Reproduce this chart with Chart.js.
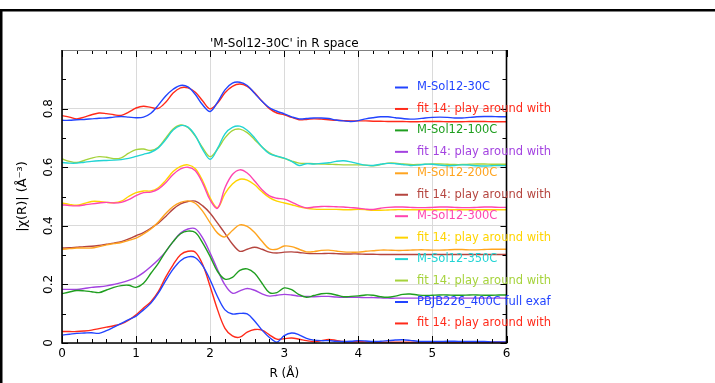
<!DOCTYPE html>
<html>
<head>
<meta charset="utf-8">
<script src="https://cdn.jsdelivr.net/npm/chart.js@4.4.1/dist/chart.umd.min.js"></script>
<style>
html, body { margin: 0; padding: 0; background: #fff; }
</style>
</head>
<body>
<canvas id="graph" width="715" height="383"></canvas>
<script>
// R grid (Å)
const rValues = [0.0,0.1,0.2,0.3,0.4,0.5,0.6,0.7,0.8,0.9,
	1.0,1.1,1.2,1.3,1.4,1.5,1.6,1.7,1.8,1.9,
	2.0,2.1,2.2,2.3,2.4,2.5,2.6,2.7,2.8,2.9,
	3.0,3.1,3.2,3.3,3.4,3.5,3.6,3.7,3.8,3.9,
	4.0,4.1,4.2,4.3,4.4,4.5,4.6,4.7,4.8,4.9,
	5.0,5.1,5.2,5.3,5.4,5.5,5.6,5.7,5.8,5.9,6.0];

const xTicks = [0, 1, 2, 3, 4, 5, 6];
const yTicks = [0, 0.2, 0.4, 0.6, 0.8];

const labels = ['M-Sol12-30C', 'fit 14: play around with',
	'M-Sol12-100C', 'fit 14: play around with',
	'M-Sol12-200C', 'fit 14: play around with',
	'M-Sol12-300C', 'fit 14: play around with',
	'M-Sol12-350C', 'fit 14: play around with',
	'PBJB226_400C full exaf', 'fit 14: play around with'];

const data30 = [0.760,0.760,0.762,0.763,0.765,0.767,0.768,0.771,0.773,0.771,
	0.769,0.771,0.784,0.812,0.843,0.866,0.879,0.874,0.848,0.812,
	0.790,0.822,0.864,0.887,0.890,0.879,0.852,0.825,0.803,0.791,
	0.782,0.772,0.765,0.766,0.768,0.768,0.766,0.761,0.758,0.756,
	0.759,0.765,0.769,0.772,0.772,0.769,0.766,0.764,0.765,0.768,
	0.770,0.771,0.770,0.768,0.768,0.770,0.772,0.773,0.773,0.772,0.772];
const fit30 = [0.776,0.771,0.765,0.771,0.779,0.785,0.783,0.779,0.777,0.788,
	0.802,0.808,0.804,0.801,0.822,0.853,0.871,0.871,0.856,0.826,
	0.799,0.819,0.854,0.876,0.884,0.876,0.854,0.825,0.800,0.785,
	0.779,0.770,0.762,0.763,0.765,0.764,0.762,0.760,0.759,0.758,
	0.758,0.758,0.757,0.757,0.756,0.756,0.756,0.755,0.755,0.756,
	0.756,0.756,0.755,0.755,0.755,0.756,0.756,0.756,0.755,0.755,0.755];
const data100 = [0.168,0.174,0.179,0.178,0.175,0.172,0.181,0.190,0.196,0.197,
	0.190,0.204,0.238,0.272,0.312,0.346,0.373,0.382,0.377,0.341,
	0.295,0.244,0.218,0.224,0.248,0.253,0.238,0.204,0.172,0.172,
	0.188,0.182,0.165,0.156,0.162,0.168,0.169,0.164,0.158,0.159,
	0.161,0.164,0.163,0.158,0.156,0.160,0.166,0.167,0.164,0.162,
	0.163,0.164,0.164,0.163,0.163,0.164,0.164,0.163,0.163,0.164,0.164];
const fit100 = [0.183,0.183,0.183,0.186,0.190,0.192,0.195,0.200,0.206,0.214,
	0.224,0.240,0.261,0.284,0.312,0.346,0.375,0.389,0.390,0.358,
	0.307,0.250,0.198,0.170,0.178,0.186,0.180,0.168,0.160,0.163,
	0.166,0.164,0.160,0.159,0.158,0.159,0.159,0.157,0.156,0.156,
	0.156,0.155,0.155,0.154,0.153,0.153,0.153,0.153,0.153,0.153,
	0.153,0.153,0.153,0.153,0.153,0.153,0.153,0.153,0.153,0.153,0.153];
const data200 = [0.320,0.322,0.324,0.324,0.324,0.329,0.335,0.339,0.343,0.350,
	0.358,0.372,0.389,0.413,0.442,0.466,0.480,0.485,0.477,0.449,
	0.410,0.375,0.362,0.384,0.403,0.398,0.377,0.347,0.321,0.320,
	0.331,0.329,0.320,0.311,0.312,0.316,0.317,0.314,0.311,0.310,
	0.310,0.313,0.315,0.317,0.317,0.316,0.316,0.317,0.318,0.318,
	0.317,0.317,0.318,0.319,0.319,0.318,0.318,0.319,0.320,0.320,0.320];
const fit200 = [0.324,0.325,0.327,0.329,0.330,0.333,0.337,0.341,0.346,0.355,
	0.366,0.377,0.392,0.409,0.432,0.457,0.475,0.483,0.484,0.468,
	0.443,0.409,0.374,0.338,0.313,0.320,0.327,0.320,0.310,0.307,
	0.310,0.311,0.309,0.306,0.305,0.305,0.306,0.305,0.304,0.304,
	0.304,0.303,0.303,0.302,0.302,0.302,0.302,0.302,0.302,0.302,
	0.302,0.302,0.302,0.302,0.302,0.302,0.302,0.302,0.302,0.302,0.302];
const data300 = [0.472,0.469,0.468,0.471,0.475,0.478,0.480,0.478,0.480,0.489,
	0.503,0.513,0.515,0.525,0.547,0.575,0.594,0.600,0.588,0.545,
	0.488,0.460,0.530,0.575,0.591,0.580,0.553,0.523,0.502,0.494,
	0.491,0.481,0.469,0.461,0.464,0.466,0.466,0.465,0.464,0.462,
	0.460,0.457,0.456,0.460,0.463,0.464,0.464,0.463,0.462,0.462,
	0.463,0.464,0.464,0.463,0.462,0.462,0.463,0.464,0.464,0.463,0.463];
const fit300 = [0.478,0.473,0.470,0.476,0.483,0.483,0.480,0.479,0.484,0.500,
	0.513,0.519,0.519,0.530,0.555,0.585,0.603,0.608,0.595,0.553,
	0.495,0.462,0.510,0.543,0.559,0.556,0.540,0.516,0.496,0.484,
	0.478,0.472,0.465,0.460,0.457,0.456,0.456,0.456,0.455,0.455,
	0.456,0.455,0.453,0.453,0.454,0.455,0.455,0.455,0.455,0.455,
	0.455,0.455,0.455,0.455,0.455,0.455,0.455,0.455,0.455,0.455,0.455];
const data350 = [0.616,0.614,0.614,0.617,0.620,0.622,0.623,0.624,0.626,0.630,
	0.637,0.644,0.651,0.666,0.694,0.727,0.742,0.737,0.708,0.660,
	0.627,0.664,0.714,0.736,0.740,0.726,0.700,0.669,0.646,0.638,
	0.631,0.620,0.606,0.612,0.611,0.613,0.615,0.620,0.622,0.618,
	0.612,0.607,0.606,0.610,0.613,0.612,0.609,0.606,0.607,0.610,
	0.610,0.607,0.605,0.606,0.608,0.607,0.605,0.604,0.605,0.606,0.605];
const fit350 = [0.628,0.620,0.616,0.623,0.631,0.636,0.634,0.629,0.632,0.648,
	0.660,0.662,0.657,0.668,0.699,0.730,0.744,0.736,0.706,0.666,
	0.636,0.662,0.700,0.725,0.730,0.718,0.694,0.669,0.649,0.637,
	0.630,0.621,0.614,0.613,0.612,0.611,0.610,0.609,0.608,0.608,
	0.608,0.607,0.605,0.609,0.614,0.614,0.611,0.609,0.609,0.610,
	0.611,0.611,0.610,0.609,0.609,0.610,0.611,0.611,0.610,0.610,0.610];
const data400 = [0.027,0.030,0.033,0.034,0.035,0.033,0.042,0.054,0.067,0.080,
	0.092,0.113,0.136,0.170,0.213,0.252,0.281,0.294,0.291,0.263,
	0.215,0.158,0.113,0.099,0.101,0.099,0.075,0.044,0.019,0.003,
	0.025,0.034,0.028,0.016,0.010,0.008,0.008,0.006,0.005,0.006,
	0.008,0.007,0.005,0.006,0.008,0.010,0.011,0.009,0.006,0.005,
	0.005,0.005,0.006,0.006,0.005,0.005,0.005,0.005,0.004,0.004,0.004];
const fit400 = [0.039,0.039,0.039,0.041,0.044,0.049,0.054,0.059,0.065,0.078,
	0.096,0.119,0.141,0.175,0.225,0.267,0.301,0.313,0.310,0.267,
	0.193,0.113,0.050,0.024,0.020,0.037,0.046,0.044,0.028,0.013,
	0.015,0.017,0.013,0.008,0.005,0.008,0.012,0.009,0.005,0.004,
	0.005,0.004,0.004,0.003,0.003,0.003,0.003,0.003,0.003,0.003,
	0.003,0.003,0.003,0.003,0.003,0.003,0.003,0.003,0.003,0.003,0.003];

const seriesValues = [data30, fit30, data100, fit100, data200, fit200,
	data300, fit300, data350, fit350, data400, fit400];
const seriesColors = ['#2244ff', '#ff2a1a', '#1f9e1f', '#a342e0', '#ffa41f', '#b5453f',
	'#ff45b0', '#ffd400', '#22d4d4', '#a6d33c', '#2244ff', '#ff2a1a'];

const FONT = '"DejaVu Sans", sans-serif';
Chart.defaults.font.family = FONT;
Chart.defaults.color = '#000';

// outer frame + inward tick marks on all four sides + legend
const framePlugin = {
	id: 'framePlugin',
	beforeDraw(chart) {
		const ctx = chart.ctx;
		ctx.save();
		ctx.fillStyle = '#fff';
		ctx.fillRect(0, 0, chart.width, chart.height);
		ctx.fillStyle = '#000';
		ctx.fillRect(0, 9, chart.width, 2.5);
		ctx.fillRect(0, 9, 2.5, chart.height - 9);
		ctx.restore();
	},
	afterDatasetsDraw(chart) {
		const {ctx, chartArea: a, scales: {x, y}} = chart;
		ctx.save();
		ctx.strokeStyle = '#000';
		ctx.lineWidth = 1;
		ctx.beginPath();
		for (let i = 0; i <= 30; i++) {
			const px = Math.round(x.getPixelForValue(i * 0.2)) + 0.5;
			const len = i % 5 === 0 ? 7 : 4;
			ctx.moveTo(px, a.bottom); ctx.lineTo(px, a.bottom - len);
			ctx.moveTo(px, a.top); ctx.lineTo(px, a.top + len);
		}
		for (let i = 0; i <= 10; i++) {
			const py = Math.round(y.getPixelForValue(i * 0.1)) + 0.5;
			const len = i % 2 === 0 ? 6 : 4;
			ctx.moveTo(a.left, py); ctx.lineTo(a.left + len, py);
			ctx.moveTo(a.right, py); ctx.lineTo(a.right - len, py);
		}
		ctx.stroke();

		// top edge is lighter, the other three are black
		ctx.strokeStyle = '#808080';
		ctx.lineWidth = 1;
		ctx.beginPath();
		ctx.moveTo(a.left, a.top + 0.5); ctx.lineTo(a.right, a.top + 0.5);
		ctx.stroke();
		ctx.strokeStyle = '#000';
		ctx.lineWidth = 1.6;
		ctx.beginPath();
		ctx.moveTo(a.left, a.top); ctx.lineTo(a.left, a.bottom);
		ctx.lineTo(a.right, a.bottom); ctx.lineTo(a.right, a.top);
		ctx.stroke();
		ctx.restore();
	},
	afterDraw(chart) {
		const ctx = chart.ctx;
		ctx.save();
		ctx.font = '11.5px ' + FONT;
		ctx.textBaseline = 'middle';
		chart.data.datasets.forEach((ds, i) => {
			const yy = 87.5 + 21.45 * i;
			ctx.strokeStyle = ds.borderColor;
			ctx.lineWidth = 2;
			ctx.beginPath();
			ctx.moveTo(395, yy); ctx.lineTo(408, yy);
			ctx.stroke();
			ctx.fillStyle = ds.borderColor;
			ctx.fillText(ds.label, 417, yy);
		});
		ctx.restore();
	}
};

const ctx = document.getElementById('graph');

const myChart = new Chart(ctx, {
	type: 'line',
	data: {
		datasets: seriesValues.map((vals, i) => ({
			label: labels[i],
			data: rValues.map((r, j) => ({x: r, y: vals[j]})),
			borderColor: seriesColors[i],
			backgroundColor: seriesColors[i],
			borderWidth: 1.4,
			pointRadius: 0,
			tension: 0.35,
			fill: false,
		}))
	},
	options: {
		responsive: false,
		animation: false,
		devicePixelRatio: 1,
		layout: {
			padding: {top: 1, right: 208.5, bottom: 0, left: 0}
		},
		scales: {
			x: {
				type: 'linear',
				min: 0,
				max: 6,
				afterFit: (s) => { s.height = 40; },
				afterBuildTicks: (s) => { s.ticks = xTicks.map(v => ({value: v})); },
				ticks: {
					autoSkip: false,
					maxRotation: 0,
					padding: 4,
					font: {size: 12},
					callback: (v) => String(v),
				},
				grid: {color: '#dadada', lineWidth: 1, drawTicks: false},
				border: {display: false},
				title: {
					display: true,
					text: 'R (Å)',
					font: {size: 12},
					padding: {top: 0, bottom: 2},
				}
			},
			y: {
				min: 0,
				max: 1.0,
				afterFit: (s) => { s.width = 62; },
				afterBuildTicks: (s) => { s.ticks = yTicks.map(v => ({value: v})); },
				ticks: {
					autoSkip: false,
					minRotation: 90,
					maxRotation: 90,
					crossAlign: 'center',
					padding: 4,
					font: {size: 12},
					callback: (v) => String(Math.round(v * 10) / 10),
				},
				grid: {color: '#dadada', lineWidth: 1, drawTicks: false},
				border: {display: false},
				title: {
					display: true,
					text: '|χ(R)| (Å⁻³)',
					font: {size: 13},
					padding: {top: 15, bottom: 0},
				}
			}
		},
		plugins: {
			legend: {display: false},
			tooltip: {enabled: false},
			title: {
				display: true,
				text: "'M-Sol12-30C' in R space",
				fullSize: false,
				color: '#000',
				font: {size: 12, weight: 'normal', lineHeight: 1},
				padding: {top: 37, bottom: 0},
			}
		}
	},
	plugins: [framePlugin]
});
</script>
</body>
</html>
